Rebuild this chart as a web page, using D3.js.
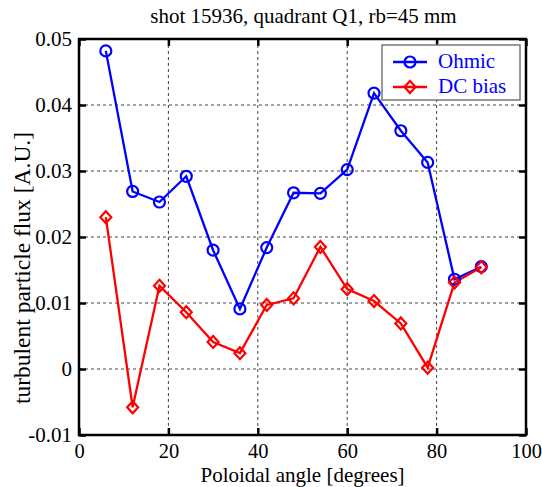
<!DOCTYPE html>
<html>
<head>
<meta charset="utf-8">
<script src="https://cdn.jsdelivr.net/npm/d3@7"></script>
<style>
  body { margin: 0; background: #fff; }
  text { font-family: "Liberation Serif", "Times New Roman", serif; }
</style>
</head>
<body>
<svg id="chart" width="542" height="487"></svg>
<script>
// poloidal angle positions [degrees]
var angles = [6, 12, 18, 24, 30, 36, 42, 48, 54, 60, 66, 72, 78, 84, 90];
var ohmic = [0.0482, 0.0269, 0.0253, 0.0292, 0.0180, 0.0091, 0.0184, 0.0267, 0.0266, 0.0302, 0.0418, 0.0361, 0.0313, 0.0136, 0.0155];
var dcBias = [0.0230, -0.0058, 0.0126, 0.0086, 0.0041, 0.0024, 0.0097, 0.0107, 0.0185, 0.0121, 0.0103, 0.0069, 0.0002, 0.0131, 0.0154];
var xTicks = [0, 20, 40, 60, 80, 100];
var yTicks = [-0.01, 0, 0.01, 0.02, 0.03, 0.04, 0.05];

var margin = {left: 79, top: 39, right: 16, bottom: 52};
var width = 542 - margin.left - margin.right;
var height = 487 - margin.top - margin.bottom;
var serif = "Liberation Serif";

var svg = d3.select("#chart");
var g = svg.append("g").attr("transform", "translate(" + margin.left + "," + margin.top + ")");

var x = d3.scaleLinear().domain([0, 100]).range([0, width]);
var y = d3.scaleLinear().domain([-0.01, 0.05]).range([height, 0]);

// grid
g.selectAll(".gx")
    .data(xTicks.slice(1, -1))
    .enter().append("line")
    .attr("x1", d => x(d)).attr("x2", d => x(d))
    .attr("y1", 0).attr("y2", height)
    .attr("stroke", "#444").attr("stroke-width", 1)
    .attr("stroke-dasharray", "3,3");

g.selectAll(".gy")
    .data(yTicks.slice(1, -1))
    .enter().append("line")
    .attr("y1", d => y(d)).attr("y2", d => y(d))
    .attr("x1", 0).attr("x2", width)
    .attr("stroke", "#444").attr("stroke-width", 1)
    .attr("stroke-dasharray", "3,3");

// axes with inward ticks
var fmtY = d => d === 0 ? "0" : d3.format(".2f")(d).replace("\u2212", "-");

var xb = g.append("g").attr("transform", "translate(0," + height + ")")
    .call(d3.axisBottom(x).tickValues(xTicks).tickSizeInner(-7).tickSizeOuter(0).tickPadding(8));
var xt = g.append("g")
    .call(d3.axisTop(x).tickValues(xTicks).tickSizeInner(-7).tickSizeOuter(0).tickFormat(""));
var yl = g.append("g")
    .call(d3.axisLeft(y).tickValues(yTicks).tickSizeInner(-7).tickSizeOuter(0).tickPadding(7).tickFormat(fmtY));
var yr = g.append("g").attr("transform", "translate(" + width + ",0)")
    .call(d3.axisRight(y).tickValues(yTicks).tickSizeInner(-7).tickSizeOuter(0).tickFormat(""));

[xb, xt, yl, yr].forEach(a => {
    a.attr("font-family", serif).attr("font-size", 21);
    a.select(".domain").remove();
    a.selectAll(".tick line").attr("stroke", "#000").attr("stroke-width", 2.5);
    a.selectAll("text").attr("fill", "#000").attr("font-size", 21)
        .attr("font-family", serif);
});
yl.selectAll("text").attr("dy", "0.33em");
xb.selectAll("text").attr("font-size", 20.5);

g.append("rect")
    .attr("width", width).attr("height", height)
    .attr("fill", "none").attr("stroke", "#000").attr("stroke-width", 2.5);

// series
var line = d3.line().x((d, i) => x(angles[i])).y(d => y(d));

g.append("path").datum(ohmic).attr("d", line)
    .attr("fill", "none").attr("stroke", "#0000ff").attr("stroke-width", 2.3);
g.append("path").datum(dcBias).attr("d", line)
    .attr("fill", "none").attr("stroke", "#ff0000").attr("stroke-width", 2.3);

var diamond = "M0,-6L5.5,0L0,6L-5.5,0Z";

g.selectAll(".ohm")
    .data(ohmic)
    .enter().append("circle")
    .attr("cx", (d, i) => x(angles[i])).attr("cy", d => y(d))
    .attr("r", 5.5)
    .attr("fill", "none").attr("stroke", "#0000ff").attr("stroke-width", 2.2);

g.selectAll(".dc")
    .data(dcBias)
    .enter().append("path")
    .attr("transform", (d, i) => "translate(" + x(angles[i]) + "," + y(d) + ")")
    .attr("d", diamond)
    .attr("fill", "none").attr("stroke", "#ff0000").attr("stroke-width", 2.2);

// legend
var leg = svg.append("g").attr("transform", "translate(382,45)");
leg.append("rect").attr("width", 138).attr("height", 55)
    .attr("fill", "#fff").attr("stroke", "#777").attr("stroke-width", 1.5);

var legItems = [
    {name: "Ohmic", color: "#0000ff", shape: "circle"},
    {name: "DC bias", color: "#ff0000", shape: "diamond"}
];
legItems.forEach((it, i) => {
    var ly = 17 + i * 25;
    leg.append("line").attr("x1", 11).attr("x2", 45).attr("y1", ly).attr("y2", ly)
        .attr("stroke", it.color).attr("stroke-width", 2.3);
    if (it.shape === "circle") {
        leg.append("circle").attr("cx", 28).attr("cy", ly).attr("r", 5.5)
            .attr("fill", "none").attr("stroke", it.color).attr("stroke-width", 2.2);
    } else {
        leg.append("path").attr("transform", "translate(28," + ly + ")").attr("d", diamond)
            .attr("fill", "none").attr("stroke", it.color).attr("stroke-width", 2.2);
    }
    leg.append("text").attr("x", 56).attr("y", ly + 6)
        .attr("font-size", 21).attr("fill", "#0000ff").text(it.name);
});

// titles
svg.append("text").attr("x", margin.left + width / 2 + 1).attr("y", 23)
    .attr("text-anchor", "middle").attr("font-size", 21).text("shot 15936, quadrant Q1, rb=45 mm");
svg.append("text").attr("x", margin.left + width / 2).attr("y", 482)
    .attr("text-anchor", "middle").attr("font-size", 21).text("Poloidal angle [degrees]");
svg.append("text")
    .attr("transform", "translate(30,268) rotate(-90)")
    .attr("text-anchor", "middle").attr("font-size", 23.5).text("turbulent particle flux [A.U.]");
</script>
</body>
</html>
